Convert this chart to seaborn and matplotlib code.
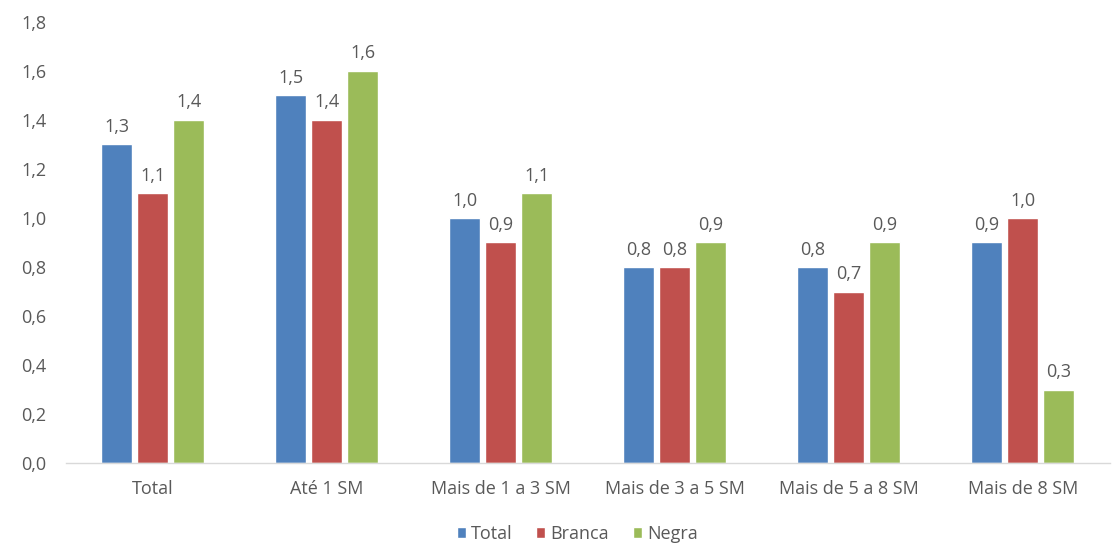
import matplotlib
matplotlib.use("Agg")
import matplotlib.pyplot as plt
import seaborn as sns
import pandas as pd
from matplotlib.ticker import FuncFormatter

categories = ["Total", "Até 1 SM", "Mais de 1 a 3 SM", "Mais de 3 a 5 SM", "Mais de 5 a 8 SM", "Mais de 8 SM"]
series_names = ["Total", "Branca", "Negra"]
total_vals = [1.3, 1.5, 1.0, 0.8, 0.8, 0.9]
branca_vals = [1.1, 1.4, 0.9, 0.8, 0.7, 1.0]
negra_vals = [1.4, 1.6, 1.1, 0.9, 0.9, 0.3]
colors = ["#4F81BD", "#C0504D", "#9BBB59"]

rows = []
for name, vals in zip(series_names, [total_vals, branca_vals, negra_vals]):
    for c, v in zip(categories, vals):
        rows.append({"cat": c, "serie": name, "valor": v})
df = pd.DataFrame(rows)

sns.set_style("white")
plt.rcParams["font.family"] = ["Open Sans", "DejaVu Sans"]
txt = "#595959"
fs = 13

fig = plt.figure(figsize=(11.12, 5.43), dpi=100)
ax = fig.add_axes([0.059, 0.147, 0.939, 0.813])
sns.barplot(data=df, x="cat", y="valor", hue="serie", palette=colors,
            order=categories, hue_order=series_names, width=0.62, gap=0.14,
            ax=ax, saturation=1, legend=True)

for cont in ax.containers:
    labels = [f"{b.get_height():.1f}".replace(".", ",") for b in cont]
    ax.bar_label(cont, labels=labels, padding=6, fontsize=fs, color=txt)

ax.set_ylim(0, 1.8)
ax.set_yticks([i * 0.2 for i in range(10)])
ax.yaxis.set_major_formatter(FuncFormatter(lambda v, p: f"{v:.1f}".replace(".", ",")))
ax.set_xlim(-0.5, len(categories) - 0.5)
ax.set_xlabel("")
ax.set_ylabel("")
for s in ["left", "right", "top"]:
    ax.spines[s].set_visible(False)
ax.spines["bottom"].set_color("#D9D9D9")
ax.spines["bottom"].set_linewidth(1.0)
ax.tick_params(axis="x", length=0, labelsize=fs, colors=txt, pad=12)
ax.tick_params(axis="y", length=0, labelsize=fs, colors=txt, pad=14)

leg = ax.legend(loc="center", bbox_to_anchor=(0.49, -0.16), ncol=3, frameon=False,
                fontsize=fs, handlelength=0.5, handleheight=0.5, handletextpad=0.3,
                columnspacing=1.3, borderpad=0.1)
for t in leg.get_texts():
    t.set_color(txt)

fig.savefig("out.png", dpi=100)
